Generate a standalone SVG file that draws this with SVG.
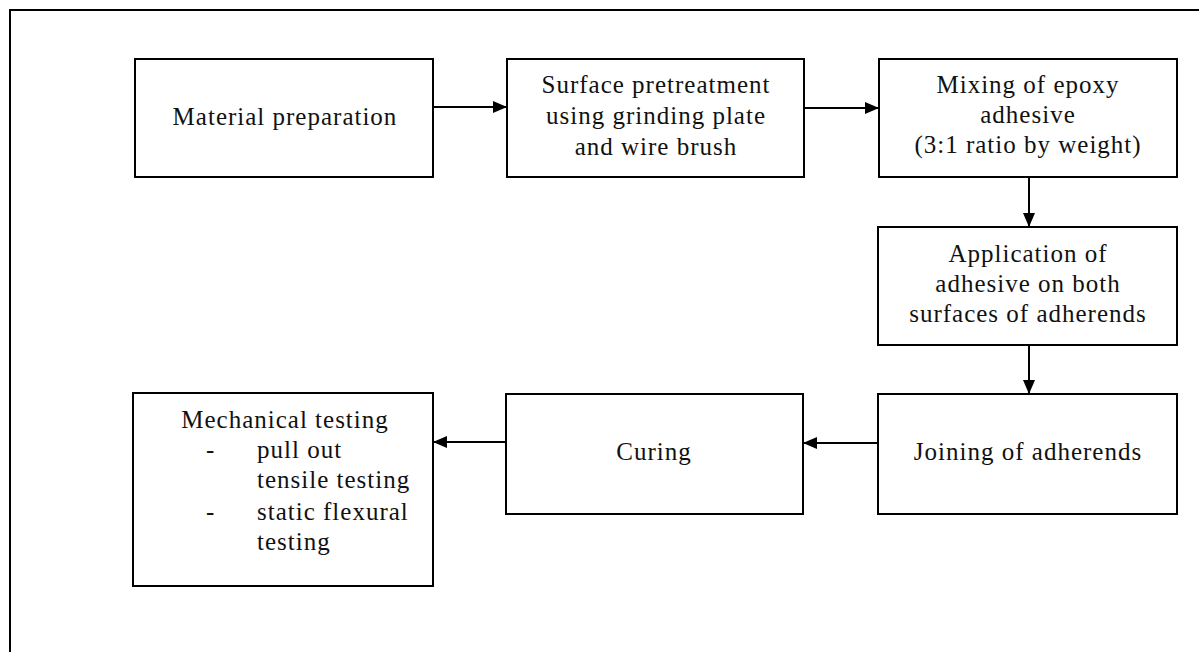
<svg xmlns="http://www.w3.org/2000/svg" width="1199" height="652" viewBox="0 0 1199 652">
<style>
.box{fill:#fff;stroke:#000;stroke-width:2}
.t{font-family:"Liberation Serif","Times New Roman",serif;font-size:25px;letter-spacing:1px;fill:#111;text-anchor:middle}
.tl{text-anchor:start}
.c{stroke:#000;stroke-width:2;fill:none}
</style>
<defs>
<marker id="ah" viewBox="0 0 14 12" refX="14" refY="6" markerWidth="14" markerHeight="12" markerUnits="userSpaceOnUse" orient="auto">
<path d="M0,0 L14,6 L0,12 Z" fill="#000"/>
</marker>
</defs>
<rect x="0" y="0" width="1199" height="652" fill="#fff"/>
<path d="M10,660 L10,10 L1210,10" class="c"/>
<g id="n1"><rect class="box" x="135" y="59" width="298" height="118"/>
<text class="t" x="285" y="125">Material preparation</text></g>
<g id="n2"><rect class="box" x="507" y="59" width="297" height="118"/>
<text class="t" x="656" y="93">Surface pretreatment</text>
<text class="t" x="656" y="124">using grinding plate</text>
<text class="t" x="656" y="155">and wire brush</text></g>
<g id="n3"><rect class="box" x="879" y="59" width="298" height="118"/>
<text class="t" x="1028" y="93">Mixing of epoxy</text>
<text class="t" x="1028" y="123">adhesive</text>
<text class="t" x="1028" y="153">(3:1 ratio by weight)</text></g>
<g id="n4"><rect class="box" x="878" y="227" width="299" height="118"/>
<text class="t" x="1028" y="262">Application of</text>
<text class="t" x="1028" y="292">adhesive on both</text>
<text class="t" x="1028" y="322">surfaces of adherends</text></g>
<g id="n5"><rect class="box" x="878" y="394" width="299" height="120"/>
<text class="t" x="1028" y="460">Joining of adherends</text></g>
<g id="n6"><rect class="box" x="506" y="394" width="297" height="120"/>
<text class="t" x="654" y="460">Curing</text></g>
<g id="n7"><rect class="box" x="133" y="393" width="300" height="193"/>
<text class="t" x="285" y="428">Mechanical testing</text>
<text class="t tl" x="206" y="458">-</text>
<text class="t tl" x="257" y="458">pull out</text>
<text class="t tl" x="257" y="488">tensile testing</text>
<text class="t tl" x="206" y="520">-</text>
<text class="t tl" x="257" y="520">static flexural</text>
<text class="t tl" x="257" y="550">testing</text></g>
<g id="connectors">
<line class="c" x1="433" y1="107" x2="507" y2="107" marker-end="url(#ah)"/>
<line class="c" x1="804" y1="108" x2="879" y2="108" marker-end="url(#ah)"/>
<line class="c" x1="1029" y1="177" x2="1029" y2="227" marker-end="url(#ah)"/>
<line class="c" x1="1029" y1="345" x2="1029" y2="394" marker-end="url(#ah)"/>
<line class="c" x1="878" y1="443" x2="803" y2="443" marker-end="url(#ah)"/>
<line class="c" x1="506" y1="442" x2="433" y2="442" marker-end="url(#ah)"/>
</g>
</svg>
